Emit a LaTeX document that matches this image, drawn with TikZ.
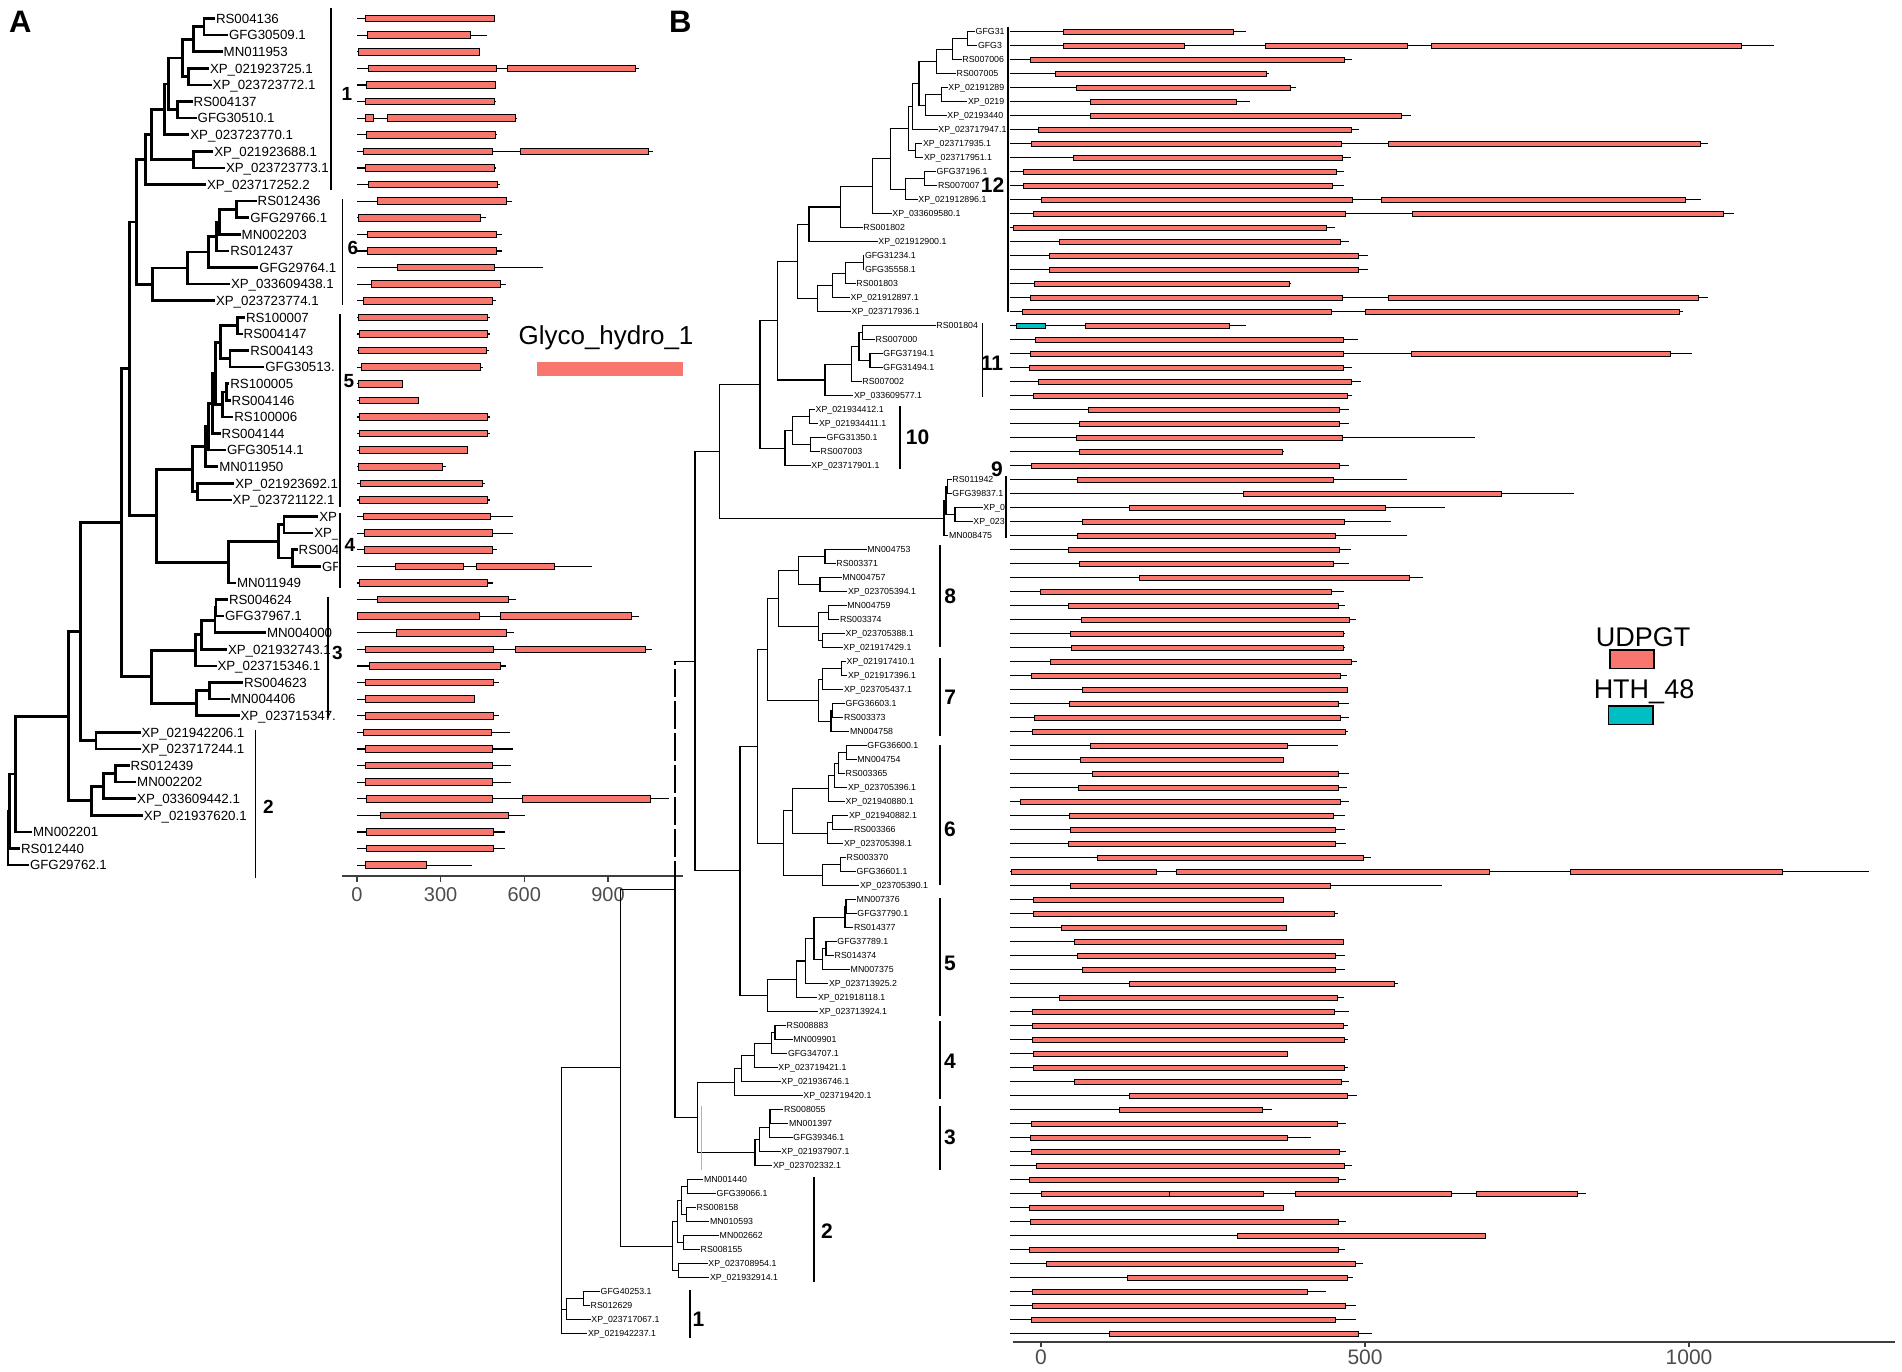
\documentclass[tikz,border=0pt]{standalone}
\usepackage{fontspec}
\setmainfont{Liberation Sans}
\usetikzlibrary{calc}
\definecolor{udp}{HTML}{F8766D}
\definecolor{hth}{HTML}{00BFC4}
\definecolor{axg}{HTML}{4D4D4D}
\newcommand\inode[5][treeA]{%
  \path let \p1=($(#4)!.5!(#5)$) in coordinate (#2) at (#3pt,\y1);%
  \draw[#1] (#2) |- (#4) (#2) |- (#5);}
\tikzset{
  treeA/.style={line width=2.7pt},
  treeB/.style={line width=1.1pt},
  labA/.style={anchor=west,inner sep=0.8pt,font=\fontsize{13.3}{14}\selectfont,text height=9.6pt,text depth=0pt},
  labB/.style={anchor=west,inner sep=0.5pt,font=\fontsize{8.8}{9}\selectfont,text height=6.3pt,text depth=0pt},
  bbA/.style={line width=1.2pt},
  bbB/.style={line width=1pt},
  boxA/.style={draw=black,fill=udp,line width=0.9pt},
  boxB/.style={draw=black,fill=udp,line width=0.8pt},
  cbA/.style={line width=1.1pt},
  cbB/.style={line width=1.4pt},
  numA/.style={inner sep=0pt,font=\bfseries\fontsize{19}{20}\selectfont},
  numB/.style={inner sep=0pt,font=\bfseries\fontsize{21}{22}\selectfont},
  axlabA/.style={anchor=base,inner sep=0pt,text=axg,font=\fontsize{20}{22}\selectfont},
  axlabB/.style={anchor=base,inner sep=0pt,text=axg,font=\fontsize{21}{23}\selectfont},
  axline/.style={draw=axg!80!black,line width=2.2pt},
  tick/.style={draw=axg!80!black,line width=1.4pt},
}
\begin{document}
\begin{tikzpicture}[x=1pt,y=-1pt]
\useasboundingbox (0,0) rectangle (1902,1371);
\fill[white] (0,0) rectangle (1902,1371);

% ================= PANEL A =================
\node[anchor=base west,inner sep=0pt,font=\bfseries\fontsize{31}{32}\selectfont] (panelA) at (9,32) {A};

\begin{scope}
\clip (0,0) rectangle (337,900);
\foreach \r/\x/\lab in {0/215/RS004136, 1/228/GFG30509.1, 2/222.7/MN011953, 3/209/XP\_021923725.1, 4/211.7/XP\_023723772.1, 5/192.7/RS004137, 6/196.7/GFG30510.1, 7/189.3/XP\_023723770.1, 8/213.3/XP\_021923688.1, 9/225/XP\_023723773.1, 10/206/XP\_023717252.2, 11/256.7/RS012436, 12/249.3/GFG29766.1, 13/240.7/MN002203, 14/229.3/RS012437, 15/258.3/GFG29764.1, 16/230/XP\_033609438.1, 17/215/XP\_023723774.1, 18/245/RS100007, 19/242.7/RS004147, 20/249.3/RS004143, 21/264.3/GFG30513., 22/229.3/RS100005, 23/230.7/RS004146, 24/233.3/RS100006, 25/220.7/RS004144, 26/226/GFG30514.1, 27/218.3/MN011950, 28/234.3/XP\_021923692.1, 29/231.7/XP\_023721122.1, 30/318.3/XP, 31/313.3/XP\_, 32/297.7/RS004, 33/321/GF, 34/236/MN011949, 35/228/RS004624, 36/224/GFG37967.1, 37/266/MN004000, 38/227/XP\_021932743.1, 39/216.5/XP\_023715346.1, 40/243/RS004623, 41/229.5/MN004406, 42/239.5/XP\_023715347., 43/140.6/XP\_021942206.1, 44/140.6/XP\_023717244.1, 45/129.5/RS012439, 46/136.2/MN002202, 47/136.2/XP\_033609442.1, 48/142.9/XP\_021937620.1, 49/32.1/MN002201, 50/20.1/RS012440, 51/29/GFG29762.1}
{
  \coordinate (A\r) at (\x,{18.5+16.6*\r});
  \node[labA] (LA\r) at (A\r) {\lab};
}
\inode{a1}{204}{A0}{A1}
\inode{a2}{193.3}{a1}{A2}
\inode{a3}{188.3}{A3}{A4}
\inode{a4}{182.7}{a2}{a3}
\inode{a5}{177.3}{A5}{A6}
\inode{a6}{168.3}{a4}{a5}
\inode{a7}{164.3}{a6}{A7}
\inode{a8}{193.3}{A8}{A9}
\inode{a9}{151.7}{a7}{a8}
\inode{a10}{145.7}{a9}{A10}
\inode{b1}{236.7}{A11}{A12}
\inode{b2}{219.3}{b1}{A13}
\inode{b3}{216.7}{b2}{A14}
\inode{b4}{208.3}{b3}{A15}
\inode{b5}{187.7}{b4}{A16}
\inode{b6}{152.3}{b5}{A17}
\inode{c1}{136.7}{a10}{b6}
\inode{d1}{237.7}{A18}{A19}
\inode{d2}{230}{A20}{A21}
\inode{d3}{220.7}{d1}{d2}
\inode{d4}{226.7}{A22}{A23}
\inode{d5}{222.7}{d4}{A24}
\inode{d6}{215.7}{d3}{d5}
\inode{d7}{212.3}{d6}{A25}
\inode{d8}{208.3}{d7}{A26}
\inode{d9}{205.7}{d8}{A27}
\inode{d10}{197.7}{A28}{A29}
\inode{d11}{192.3}{d9}{d10}
\inode{e1}{284}{A30}{A31}
\inode{e2}{292.3}{A32}{A33}
\inode{e3}{278.3}{e1}{e2}
\inode{e4}{228.3}{e3}{A34}
\inode{f1}{156.7}{d11}{e4}
\inode{c2}{129.3}{c1}{f1}
\inode{i1}{216}{A35}{A36}
\inode{i2}{215}{i1}{A37}
\inode{i3}{201.8}{i2}{A38}
\inode{i4}{195.5}{i3}{A39}
\inode{i5}{209.8}{A40}{A41}
\inode{i6}{196.4}{i5}{A42}
\inode{h1}{151.8}{i4}{i6}
\inode{g1}{121.5}{c2}{h1}
\inode{j1}{96}{A43}{A44}
\inode{g2}{80.4}{g1}{j1}
\inode{k1}{115.2}{A45}{A46}
\inode{k2}{103.6}{k1}{A47}
\inode{k3}{91.5}{k2}{A48}
\inode{g3}{68.3}{g2}{k3}
\inode{g4}{15.6}{g3}{A49}
\inode{g5}{9.8}{g4}{A50}
\inode{g6}{8}{g5}{A51}
\end{scope}

% clade bars A
\draw[cbA] (331,8) -- (331,190);
\node[numA] (cA1) at (347,94) {1};
\draw[cbA] (342.3,199) -- (342.3,305);
\node[numA] (cA6) at (353,247.5) {6};
\draw[cbA] (340,314) -- (340,506.7);
\node[numA] (cA5) at (349,381.5) {5};
\draw[cbA] (340,513) -- (340,588);
\node[numA] (cA4) at (350,544.5) {4};
\draw[cbA] (328,596.7) -- (328,718);
\node[numA] (cA3) at (337.5,652.5) {3};
\draw[cbA] (255.8,730) -- (255.8,878);
\node[numA] (cA2) at (268.5,806.7) {2};

% bars A
\foreach \r/\e in {0/495,1/486.7,2/480,3/639,4/495.7,5/496,6/516.7,7/496.7,8/653,9/496,10/500,11/512.3,12/485.7,13/502,14/502,15/543.3,16/505.7,17/495.7,18/490,19/490,20/489.3,21/482.7,22/402.3,23/418.3,24/490,25/490,26/467.3,27/446,28/485,29/490,30/512.7,31/513.3,32/497.3,33/591.7,34/492.7,35/515.6,36/639.3,37/514.3,38/651.8,39/505.8,40/498.7,41/474.1,42/499,43/510.3,44/512.5,45/511.2,46/511.2,47/668.8,48/525.4,49/505.4,50/505.4,51/471.9}
  \draw[bbA] (357,{18.5+16.6*\r}) -- (\e,{18.5+16.6*\r});
\foreach \r/\a/\b in {0/365/494, 1/367.7/470, 2/358.3/479.3, 3/368.7/496.7, 3/507.7/635.7, 4/366/495, 5/365.7/494.3, 6/365.3/373.3, 6/387/515, 7/366.7/495.3, 8/363.3/492.7, 8/520/648.3, 9/365/494.3, 10/368.7/497.7, 11/377.7/506.7, 12/358.3/480, 13/367/496, 14/367/496, 15/397.7/494, 16/371.7/500, 17/363.3/492.3, 18/358.7/487.3, 19/359/487.3, 20/358.3/486, 21/361.7/480, 22/358.7/402.3, 23/359/418.3, 24/359/487.3, 25/359/487.3, 26/359/467.3, 27/358.3/442.7, 28/360.7/482, 29/359/487.3, 30/363.3/490, 31/364/492.7, 32/364/492.7, 33/395.7/463.3, 33/476.3/554.3, 34/359/487.7, 35/377.2/508, 36/357.1/479, 36/500/631.7, 37/396/506.7, 38/365.2/493.8, 38/515.6/645, 39/369.6/500, 40/365.2/493.8, 41/365.2/474.1, 42/365.2/493.8, 43/363.8/491.5, 44/365.2/492.9, 45/365.2/492.9, 46/365.2/492.9, 47/366/492.4, 47/522.3/650.9, 48/380.8/508.9, 49/366/493.8, 50/366/493.8, 51/365.2/426.8}
  \draw[boxA] (\a,{18.5+16.6*\r-3.3}) rectangle (\b,{18.5+16.6*\r+3.3});

% axis A
\draw[axline] (341.5,876) -- (683,876);
\foreach \x/\t in {357/0,440.6/300,524.3/600,608/900}{
  \draw[tick] (\x,876) -- (\x,881.5);
  \node[axlabA] (axA\t) at (\x,901.5) {\t};
}

% legend A
\node[anchor=base,inner sep=0pt,font=\fontsize{26}{28}\selectfont] (ghlab) at (606,344) {Glyco\_hydro\_1};
\fill[udp] (537,362) rectangle (683,375.5);

% ================= PANEL B =================
\node[anchor=base west,inner sep=0pt,font=\bfseries\fontsize{31}{32}\selectfont] (panelB) at (669,32.5) {B};

\begin{scope}
\clip (540,0) rectangle (1005.5,1371);
\foreach \r/\x/\lab in {0/975/GFG31, 1/977.3/GFG3, 2/961.7/RS007006, 3/956/RS007005, 4/947.7/XP\_02191289, 5/967.3/XP\_0219, 6/946.7/XP\_02193440, 7/937.7/XP\_023717947.1, 8/922.3/XP\_023717935.1, 9/923.3/XP\_023717951.1, 10/936/GFG37196.1, 11/937.3/RS007007, 12/917.7/XP\_021912896.1, 13/891.7/XP\_033609580.1, 14/862.7/RS001802, 15/877.7/XP\_021912900.1, 16/864.3/GFG31234.1, 17/864.3/GFG35558.1, 18/855.7/RS001803, 19/850/XP\_021912897.1, 20/851/XP\_023717936.1, 21/935.7/RS001804, 22/875/RS007000, 23/882.7/GFG37194.1, 24/882.7/GFG31494.1, 25/861.7/RS007002, 26/853.3/XP\_033609577.1, 27/815/XP\_021934412.1, 28/818.3/XP\_021934411.1, 29/826/GFG31350.1, 30/820/RS007003, 31/810.7/XP\_023717901.1, 32/951.7/RS011942, 33/951.7/GFG39837.1, 34/982.7/XP\_0, 35/972.7/XP\_023, 36/948.3/MN008475, 37/866.7/MN004753, 38/835.7/RS003371, 39/841.7/MN004757, 40/847.3/XP\_023705394.1, 41/846.7/MN004759, 42/839.3/RS003374, 43/845/XP\_023705388.1, 44/842.7/XP\_021917429.1, 45/846/XP\_021917410.1, 46/847.3/XP\_021917396.1, 47/843.3/XP\_023705437.1, 48/845/GFG36603.1, 49/843.3/RS003373, 50/849.3/MN004758, 51/866.7/GFG36600.1, 52/856.7/MN004754, 53/845/RS003365, 54/847.3/XP\_023705396.1, 55/845/XP\_021940880.1, 56/848.3/XP\_021940882.1, 57/853.3/RS003366, 58/843.3/XP\_023705398.1, 59/846/RS003370, 60/856/GFG36601.1, 61/859.3/XP\_023705390.1, 62/856/MN007376, 63/856.7/GFG37790.1, 64/853.3/RS014377, 65/836.7/GFG37789.1, 66/834/RS014374, 67/850/MN007375, 68/828.3/XP\_023713925.2, 69/817.3/XP\_021918118.1, 70/818.3/XP\_023713924.1, 71/786/RS008883, 72/792.7/MN009901, 73/787.3/GFG34707.1, 74/777.7/XP\_023719421.1, 75/780.7/XP\_021936746.1, 76/802.7/XP\_023719420.1, 77/783.3/RS008055, 78/788.3/MN001397, 79/792.7/GFG39346.1, 80/780.7/XP\_021937907.1, 81/772.3/XP\_023702332.1, 82/703.3/MN001440, 83/716/GFG39066.1, 84/696/RS008158, 85/709.3/MN010593, 86/719/MN002662, 87/700/RS008155, 88/707.7/XP\_023708954.1, 89/709.3/XP\_021932914.1, 90/600/GFG40253.1, 91/590/RS012629, 92/590.7/XP\_023717067.1, 93/587.3/XP\_021942237.1}
{
  \coordinate (B\r) at (\x,{31.7+14*\r});
  \node[labB] (LB\r) at (B\r) {\lab};
}
\end{scope}

\inode[treeB]{p1}{967.3}{B0}{B1}
\inode[treeB]{p2}{952.7}{p1}{B2}
\inode[treeB]{p3}{936.7}{p2}{B3}
\inode[treeB]{p4}{941.7}{B4}{B5}
\inode[treeB]{p5}{925.7}{p4}{B6}
\inode[treeB]{p6}{919}{p3}{p5}
\inode[treeB]{p7}{912.3}{p6}{B7}
\inode[treeB]{p8}{915.7}{B8}{B9}
\inode[treeB]{p9}{908.3}{p7}{p8}
\inode[treeB]{p10}{924.3}{B10}{B11}
\inode[treeB]{p11}{905.7}{p10}{B12}
\inode[treeB]{p12}{890.7}{p9}{p11}
\inode[treeB]{p13}{872.7}{p12}{B13}
\inode[treeB]{p14}{840.7}{p13}{B14}
\inode[treeB]{p15}{809}{p14}{B15}
\inode[treeB]{p16}{863.3}{B16}{B17}
\inode[treeB]{p17}{845.7}{p16}{B18}
\inode[treeB]{p18}{832.7}{p17}{B19}
\inode[treeB]{p19}{817.7}{p18}{B20}
\inode[treeB]{p20}{797.3}{p15}{p19}
\inode[treeB]{q1}{862.3}{B21}{B22}
\inode[treeB]{q2}{870}{B23}{B24}
\inode[treeB]{q3}{859}{q1}{q2}
\inode[treeB]{q4}{851.7}{q3}{B25}
\inode[treeB]{q5}{825}{q4}{B26}
\inode[treeB]{q6}{777.3}{p20}{q5}
\inode[treeB]{s1}{809.3}{B27}{B28}
\inode[treeB]{s2}{810.7}{B29}{B30}
\inode[treeB]{s3}{792.7}{s1}{s2}
\inode[treeB]{s4}{785}{s3}{B31}
\inode[treeB]{s5}{760}{q6}{s4}
\inode[treeB]{t1}{947.3}{B32}{B33}
\inode[treeB]{t2}{955}{B34}{B35}
\inode[treeB]{t3}{946}{t1}{t2}
\inode[treeB]{t4}{944}{t3}{B36}
\inode[treeB]{s6}{719.3}{s5}{t4}
\inode[treeB]{v1}{825}{B37}{B38}
\inode[treeB]{v2}{820}{B39}{B40}
\inode[treeB]{v3}{798.3}{v1}{v2}
\inode[treeB]{v4}{828.3}{B41}{B42}
\inode[treeB]{v5}{822.7}{B43}{B44}
\inode[treeB]{v6}{818.3}{v4}{v5}
\inode[treeB]{v7}{778.3}{v3}{v6}
\inode[treeB]{w1}{841.7}{B45}{B46}
\inode[treeB]{w2}{822.7}{w1}{B47}
\inode[treeB]{w3}{832.7}{B48}{B49}
\inode[treeB]{w4}{831}{w3}{B50}
\inode[treeB]{w5}{818.3}{w2}{w4}
\inode[treeB]{w6}{767.3}{v7}{w5}
\inode[treeB]{x1}{846.7}{B51}{B52}
\inode[treeB]{x2}{838.3}{x1}{B53}
\inode[treeB]{x3}{834.3}{x2}{B54}
\inode[treeB]{x4}{828.3}{x3}{B55}
\inode[treeB]{x5}{832.7}{B56}{B57}
\inode[treeB]{x6}{827.3}{x5}{B58}
\inode[treeB]{x7}{792.5}{x4}{x6}
\inode[treeB]{x8}{840.7}{B59}{B60}
\inode[treeB]{x9}{822.7}{x8}{B61}
\inode[treeB]{x10}{783.3}{x7}{x9}
\inode[treeB]{y1}{757.3}{w6}{x10}
\inode[treeB]{z1}{846}{B62}{B63}
\inode[treeB]{z2}{845}{z1}{B64}
\inode[treeB]{z3}{826}{B65}{B66}
\inode[treeB]{z4}{822.7}{z3}{B67}
\inode[treeB]{z5}{814}{z2}{z4}
\inode[treeB]{z6}{805.7}{z5}{B68}
\inode[treeB]{z7}{796.7}{z6}{B69}
\inode[treeB]{z8}{767.3}{z7}{B70}
\inode[treeB]{y2}{740}{y1}{z8}
\inode[treeB]{U}{695}{s6}{y2}
\inode[treeB]{aa1}{775}{B71}{B72}
\inode[treeB]{aa2}{771.7}{aa1}{B73}
\inode[treeB]{aa3}{754.3}{aa2}{B74}
\inode[treeB]{aa4}{741.7}{aa3}{B75}
\inode[treeB]{aa5}{734.3}{aa4}{B76}
\inode[treeB]{bb1}{770}{B77}{B78}
\inode[treeB]{bb2}{769.3}{bb1}{B79}
\inode[treeB]{bb3}{759.3}{bb2}{B80}
\inode[treeB]{bb4}{755}{bb3}{B81}
\inode[treeB]{cc1}{697.3}{aa5}{bb4}
\path let \p1=($(U)!.5!(cc1)$) in coordinate (N675) at (675pt,\y1);
\draw[treeB,dash pattern=on 28pt off 4pt] (N675) -- (N675 |- U);
\draw[treeB] (N675 |- U) -- (U);
\draw[treeB] (N675) |- (cc1);
\inode[treeB]{dd1}{687.3}{B82}{B83}
\inode[treeB]{dd2}{686.7}{B84}{B85}
\inode[treeB]{dd3}{681.7}{dd1}{dd2}
\inode[treeB]{dd4}{683.3}{B86}{B87}
\inode[treeB]{dd5}{677.7}{dd3}{dd4}
\inode[treeB]{dd6}{678.3}{B88}{B89}
\inode[treeB]{dd7}{672.7}{dd5}{dd6}
\inode[treeB]{N620}{620.7}{N675}{dd7}
\inode[treeB]{ee1}{583.3}{B90}{B91}
\inode[treeB]{ee2}{566.7}{ee1}{B92}
\inode[treeB]{Broot}{561.7}{N620}{B93}
\draw[treeB] (Broot) |- (ee2);
\draw[gray!60,line width=0.8pt] (701.7,1106) -- (701.7,1170);

% clade bars B
\draw[cbB] (1008,26.7) -- (1008,311.7);
\node[numB] (cB12) at (992.5,185) {12};
\draw[cbB] (982.3,322.7) -- (982.3,397.3);
\node[numB] (cB11) at (992,363.3) {11};
\draw[cbB] (900,406) -- (900,469.3);
\node[numB] (cB10) at (917.5,437.5) {10};
\draw[cbB] (1006,476) -- (1006,538.3);
\node[numB] (cB9) at (997,469) {9};
\draw[cbB] (940,545) -- (940,646.7);
\node[numB] (cB8) at (950.3,596) {8};
\draw[cbB] (940,658.3) -- (940,736);
\node[numB] (cB7) at (950.3,697) {7};
\draw[cbB] (940,745) -- (940,885);
\node[numB] (cB6) at (950,829.7) {6};
\draw[cbB] (940,898) -- (940,1015.7);
\node[numB] (cB5) at (950,963.4) {5};
\draw[cbB] (940,1021.3) -- (940,1098.6);
\node[numB] (cB4) at (950,1061) {4};
\draw[cbB] (940,1106.4) -- (940,1169.6);
\node[numB] (cB3) at (950,1137.3) {3};
\draw[cbB] (814,1176.6) -- (814,1282);
\node[numB] (cB2) at (827,1231) {2};
\draw[cbB] (690,1289.8) -- (690,1338.3);
\node[numB] (cB1) at (698.5,1319) {1};

% bars B
\foreach \r/\e in {0/1245.7,1/1773.9,2/1352.1,3/1268.7,4/1296.3,5/1250.3,6/1411.4,7/1358.5,8/1707.7,9/1351,10/1343.5,11/1343.5,12/1700.8,13/1733.6,14/1335.4,15/1349.3,16/1368.2,17/1368.2,18/1290.6,19/1707.7,20/1683,21/1245.7,22/1357.9,23/1691.6,24/1352.1,25/1360.8,26/1352.1,27/1348.7,28/1348.7,29/1475.3,30/1283.7,31/1348.7,32/1407.4,33/1573.6,34/1444.8,35/1391.3,36/1406.8,37/1351,38/1349.3,39/1422.9,40/1344.1,41/1345.2,42/1355.6,43/1345.2,44/1345.2,45/1356.7,46/1347,47/1348.1,48/1348.7,49/1348.7,50/1348.1,51/1338.3,52/1283.7,53/1348.7,54/1347,55/1348.7,56/1345.2,57/1345.2,58/1345.8,59/1371.1,60/1868.8,61/1441.9,62/1283.1,63/1338.3,64/1286.5,65/1344.1,66/1345.2,67/1345.2,68/1398.2,69/1344.1,70/1349.3,71/1348.1,72/1347.5,73/1287.7,74/1348.1,75/1348.7,76/1356.7,77/1271.6,78/1346.4,79/1311.3,80/1346.4,81/1351.6,82/1345.8,83/1585.7,84/1283.7,85/1346.4,86/1485,87/1345.2,88/1362.5,89/1352.7,90/1326.2,91/1356.2,92/1356.2,93/1372.3}
  \draw[bbB] (1010.4,{31.7+14*\r}) -- (\e,{31.7+14*\r});
\foreach \r/\a/\b in {0/1063.3/1233, 1/1063.3/1184.1, 1/1265.2/1407.4, 1/1431.5/1741.1, 2/1030.5/1344.1, 3/1055.2/1266.4, 4/1076.5/1290.6, 5/1090.3/1235.9, 6/1090.3/1401.6, 7/1038.6/1351, 8/1031.1/1341.2, 8/1388.4/1700.8, 9/1073.1/1342.3, 10/1023/1336.6, 11/1023/1332.6, 12/1041.4/1352.7, 12/1380.9/1685.8, 13/1033.4/1345.2, 13/1412/1723.2, 14/1013.8/1326.2, 15/1059.8/1340.6, 16/1049.5/1358.5, 17/1049.5/1358.5, 18/1034.5/1289.4, 19/1029.9/1342.3, 19/1388.4/1698.5, 20/1021.9/1331.4, 20/1365.4/1679, 21/1085.2/1229, 22/1035.7/1343.5, 23/1029.9/1343.5, 23/1411.4/1670.3, 24/1029.3/1343.5, 25/1038/1351, 26/1033.4/1347.5, 27/1088.6/1339.5, 28/1079.4/1339.5, 29/1076.5/1342.3, 30/1079.4/1281.9, 31/1031.6/1339.5, 32/1077.1/1333.7, 33/1243.4/1501.7, 34/1129.5/1385.5, 35/1082.3/1344.1, 36/1077.1/1334.9, 37/1068.5/1339.5, 38/1079.4/1333.7, 39/1139.2/1409.7, 40/1040.3/1331.4, 41/1068.5/1338.3, 42/1081.1/1349.8, 43/1070.2/1342.9, 44/1071.3/1342.9, 45/1050.6/1351, 46/1031.6/1340.6, 47/1082.3/1346.9, 48/1069.6/1338.3, 49/1034.5/1340, 50/1032.8/1345.8, 51/1090.3/1287.7, 52/1080/1283.7, 53/1092.1/1338.3, 54/1078.8/1338.3, 55/1020.7/1340.6, 56/1069.6/1333.7, 57/1070.2/1335.4, 58/1068.5/1335.4, 59/1097.2/1363.6, 60/1011.5/1156.5, 60/1176.6/1489.1, 60/1570.8/1782.5, 61/1070.8/1330.8, 62/1033.4/1283.1, 63/1033.4/1334.3, 64/1061.6/1286.5, 65/1074.2/1342.9, 66/1077.7/1335.4, 67/1082.3/1335.4, 68/1128.9/1394.7, 69/1059.8/1337.7, 70/1032.8/1334.3, 71/1032.8/1342.9, 72/1032.8/1344.6, 73/1033.4/1287.7, 74/1033.4/1344.6, 75/1074.8/1341.2, 76/1129.5/1346.9, 77/1119.1/1262.4, 78/1031.6/1337.7, 79/1030.5/1287.7, 80/1031.6/1339.5, 81/1036.8/1344.1, 82/1029.3/1338.3, 83/1040.9/1169.7, 83/1169.7/1263.5, 83/1295.2/1451.7, 83/1476.4/1577.1, 84/1029.3/1283.7, 85/1029.9/1338.3, 86/1237.6/1485, 87/1029.3/1338.3, 88/1046.6/1355.6, 89/1127.7/1347.5, 90/1032.2/1307.8, 91/1032.2/1345.2, 92/1031.6/1335.4, 93/1109.3/1358.5}
  \draw[boxB] (\a,{31.7+14*\r-2.2}) rectangle (\b,{31.7+14*\r+2.2});
\draw[boxB,fill=hth] (1016.1,{31.7+14*21-2.2}) rectangle (1044.9,{31.7+14*21+2.2});

% axis B
\draw[axline,line width=1.8pt] (1012.7,1341.7) -- (1894.7,1341.7);
\foreach \x/\t in {1041/0,1365/500,1689/1000}{
  \draw[tick] (\x,1341.7) -- (\x,1347);
  \node[axlabB] (axB\t) at (\x,1364) {\t};
}

% legend B
\node[anchor=base,inner sep=0pt,font=\fontsize{27}{29}\selectfont] (udplab) at (1643,646) {UDPGT};
\draw[fill=udp,line width=1.1pt] (1610,650) rectangle (1654,668.3);
\node[anchor=base,inner sep=0pt,font=\fontsize{27}{29}\selectfont] (hthlab) at (1644,698.3) {HTH\_48};
\draw[fill=hth,line width=1.1pt] (1608.5,706) rectangle (1653,724.3);
\end{tikzpicture}
\end{document}
